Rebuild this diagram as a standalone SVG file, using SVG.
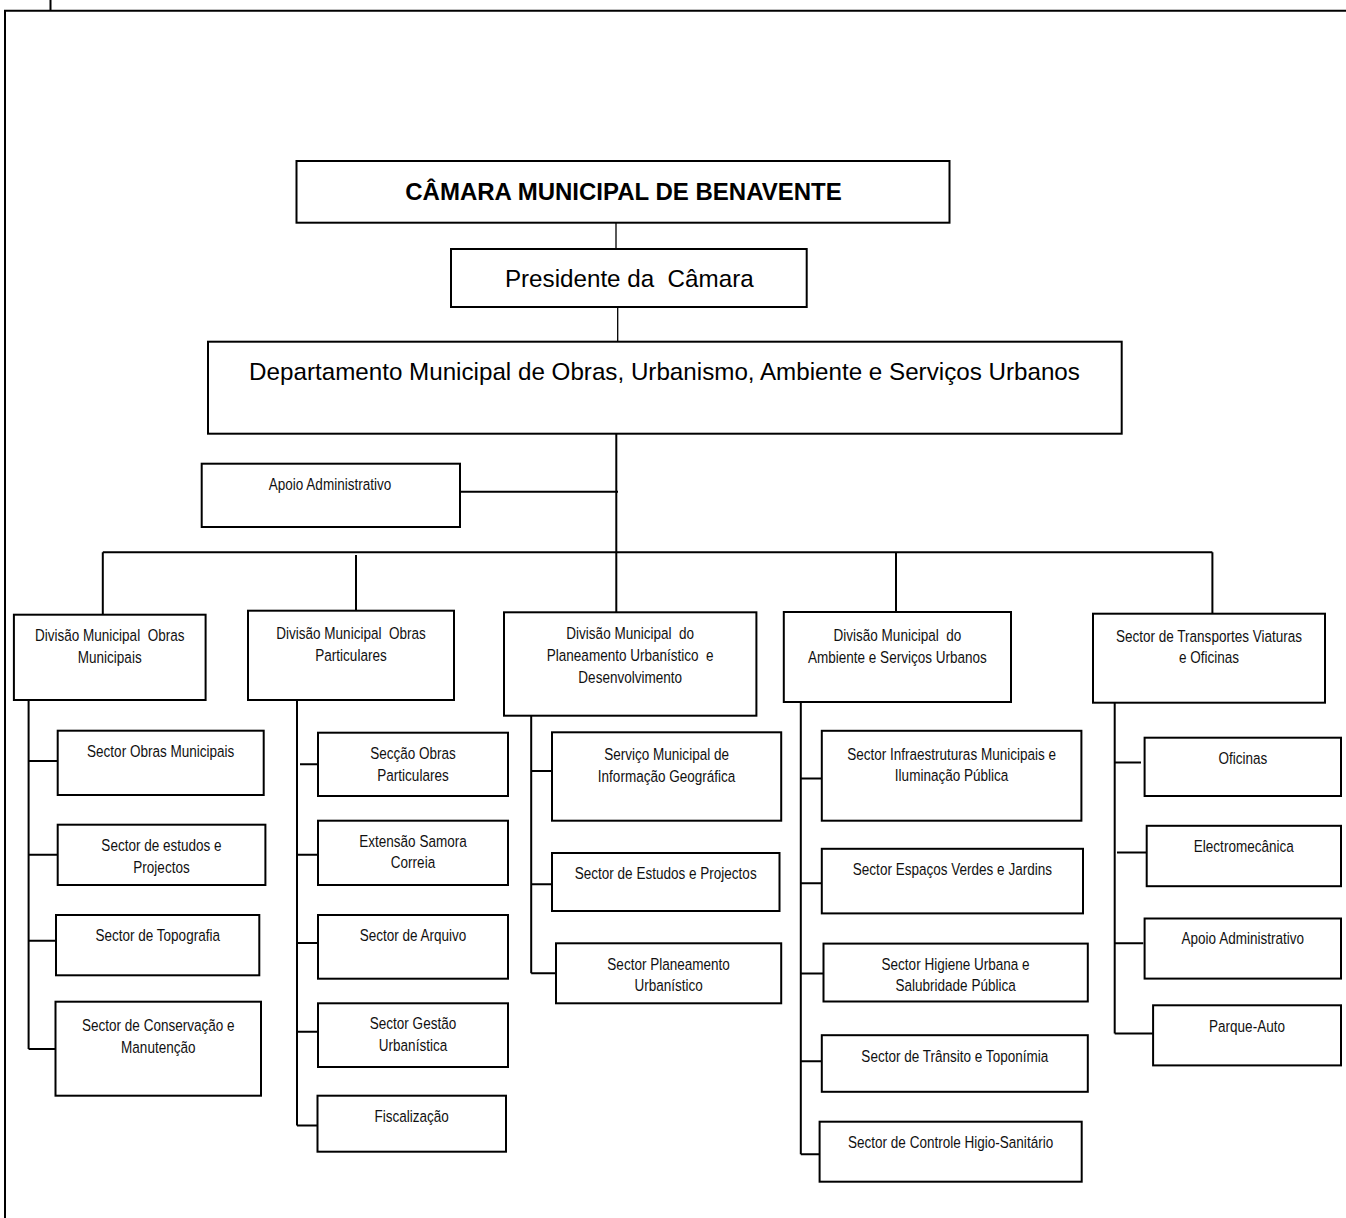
<svg xmlns="http://www.w3.org/2000/svg" width="1346" height="1218" viewBox="0 0 1346 1218">
<style>
.box{fill:#fff;stroke:#000;stroke-width:2}
.ln{stroke:#000;stroke-width:2;fill:none}
.thin{stroke:#000;stroke-width:1.3;fill:none}
text{white-space:pre;fill:#111;text-anchor:middle}
.s{font-family:"Liberation Sans",Arial,sans-serif;font-size:16.5px}
.b{font-family:"Liberation Sans",Arial,sans-serif;font-size:24px;font-weight:bold;fill:#000}
.m{font-family:"Liberation Sans",Arial,sans-serif;font-size:24.2px;fill:#000}
</style>
<rect width="1346" height="1218" fill="#fff"/>
<g id="frame">
<path class="ln" d="M5,1218 V10.8 H1346 M50.5,0 V10"/>
</g>
<g id="connectors">
<path class="thin" d="M616,222.7 V249 M617.7,307 V341.7"/>
<path class="ln" d="M616.3,433.7 V612.3 M460,491.7 H618 M102.8,552.3 H1212.4 M102.8,552.3 V614.7 M356,555 V610.7 M896,552.3 V612 M1212.4,552.3 V613.7"/>
<path class="ln" d="M28.6,700 V1049 M28.6,761 H57.7 M28.6,854.7 H57.7 M28.6,940.7 H57.7 M28.6,1049 H57.7"/>
<path class="ln" d="M297,700 V1125.5 M300,764.3 H320 M297,854.7 H318 M297,943 H320 M297,1031.7 H318 M297,1125.5 H320.7"/>
<path class="ln" d="M531.2,715.7 V973.3 M531.2,771 H552 M531.2,884.3 H555 M531.2,973.3 H556"/>
<path class="ln" d="M800.8,700 V1154.3 M800.8,778.5 H821.8 M800.8,883.2 H821.8 M800.8,973.4 H823.5 M800.8,1061.3 H821.8 M800.8,1154.3 H819.6"/>
<path class="ln" d="M1114.7,702.7 V1033.5 M1114.7,762.4 H1141 M1117,852.6 H1146.7 M1114.7,943.2 H1143.3 M1114.7,1033.5 H1153"/>
</g>
<g id="camara">
<rect class="box" x="296.5" y="161" width="653" height="61.7"/>
<text class="b" x="623.5" y="200">CÂMARA MUNICIPAL DE BENAVENTE</text>
</g>
<g id="presidente">
<rect class="box" x="451" y="249" width="355.7" height="58"/>
<text class="m" x="629.3" y="287">Presidente da  Câmara</text>
</g>
<g id="departamento">
<rect class="box" x="208" y="341.7" width="913.7" height="92"/>
<text class="m" x="664.5" y="380">Departamento Municipal de Obras, Urbanismo, Ambiente e Serviços Urbanos</text>
</g>
<g id="apoio-adm">
<rect class="box" x="201.7" y="463.7" width="258.3" height="63.3"/>
<text class="s" transform="translate(330 490) scale(0.82 1)">Apoio Administrativo</text>
</g>
<g id="div-obras-municipais">
<rect class="box" x="13.9" y="614.7" width="191.7" height="85.3"/>
<text class="s" transform="translate(109.7 641) scale(0.82 1)">Divisão Municipal  Obras</text>
<text class="s" transform="translate(109.7 663) scale(0.82 1)">Municipais</text>
</g>
<g id="div-obras-particulares">
<rect class="box" x="248" y="610.7" width="206" height="89.3"/>
<text class="s" transform="translate(351 639) scale(0.82 1)">Divisão Municipal  Obras</text>
<text class="s" transform="translate(351 661) scale(0.82 1)">Particulares</text>
</g>
<g id="div-planeamento">
<rect class="box" x="504" y="612.3" width="252.4" height="103.4"/>
<text class="s" transform="translate(630.2 639) scale(0.82 1)">Divisão Municipal  do</text>
<text class="s" transform="translate(630.2 661) scale(0.82 1)">Planeamento Urbanístico  e</text>
<text class="s" transform="translate(630.2 683) scale(0.82 1)">Desenvolvimento</text>
</g>
<g id="div-ambiente">
<rect class="box" x="783.8" y="612" width="227.2" height="90"/>
<text class="s" transform="translate(897.4 641) scale(0.82 1)">Divisão Municipal  do</text>
<text class="s" transform="translate(897.4 663) scale(0.82 1)">Ambiente e Serviços Urbanos</text>
</g>
<g id="sector-transportes">
<rect class="box" x="1093" y="613.7" width="232" height="89"/>
<text class="s" transform="translate(1209 641.7) scale(0.82 1)">Sector de Transportes Viaturas</text>
<text class="s" transform="translate(1209 663.3) scale(0.82 1)">e Oficinas</text>
</g>
<g id="sector-obras-municipais">
<rect class="box" x="57.7" y="730.7" width="206" height="64.3"/>
<text class="s" transform="translate(160.7 757) scale(0.82 1)">Sector Obras Municipais</text>
</g>
<g id="sector-estudos-projectos-1">
<rect class="box" x="57.7" y="824.7" width="207.7" height="60.3"/>
<text class="s" transform="translate(161.5 851) scale(0.82 1)">Sector de estudos e</text>
<text class="s" transform="translate(161.5 873) scale(0.82 1)">Projectos</text>
</g>
<g id="sector-topografia">
<rect class="box" x="56" y="915" width="203.3" height="60.3"/>
<text class="s" transform="translate(157.7 940.7) scale(0.82 1)">Sector de Topografia</text>
</g>
<g id="sector-conservacao">
<rect class="box" x="55.5" y="1001.7" width="205.5" height="94"/>
<text class="s" transform="translate(158.3 1031) scale(0.82 1)">Sector de Conservação e</text>
<text class="s" transform="translate(158.3 1053) scale(0.82 1)">Manutenção</text>
</g>
<g id="seccao-obras-particulares">
<rect class="box" x="318" y="732.7" width="190" height="63.3"/>
<text class="s" transform="translate(413 759.3) scale(0.82 1)">Secção Obras</text>
<text class="s" transform="translate(413 780.5) scale(0.82 1)">Particulares</text>
</g>
<g id="extensao-samora">
<rect class="box" x="318" y="820.7" width="190" height="64.3"/>
<text class="s" transform="translate(413 846.7) scale(0.82 1)">Extensão Samora</text>
<text class="s" transform="translate(413 868.3) scale(0.82 1)">Correia</text>
</g>
<g id="sector-arquivo">
<rect class="box" x="318" y="915" width="190" height="63.7"/>
<text class="s" transform="translate(413 940.7) scale(0.82 1)">Sector de Arquivo</text>
</g>
<g id="sector-gestao">
<rect class="box" x="318" y="1003.3" width="190" height="63.7"/>
<text class="s" transform="translate(413 1029.3) scale(0.82 1)">Sector Gestão</text>
<text class="s" transform="translate(413 1051) scale(0.82 1)">Urbanística</text>
</g>
<g id="fiscalizacao">
<rect class="box" x="317.5" y="1095.7" width="188.5" height="56"/>
<text class="s" transform="translate(411.7 1121.7) scale(0.82 1)">Fiscalização</text>
</g>
<g id="servico-sig">
<rect class="box" x="552" y="732.3" width="229.2" height="88.4"/>
<text class="s" transform="translate(666.6 760) scale(0.82 1)">Serviço Municipal de</text>
<text class="s" transform="translate(666.6 781.7) scale(0.82 1)">Informação Geográfica</text>
</g>
<g id="sector-estudos-projectos-2">
<rect class="box" x="552" y="853" width="227.5" height="58"/>
<text class="s" transform="translate(665.7 879) scale(0.82 1)">Sector de Estudos e Projectos</text>
</g>
<g id="sector-planeamento">
<rect class="box" x="556" y="943.3" width="225.2" height="60"/>
<text class="s" transform="translate(668.6 970) scale(0.82 1)">Sector Planeamento</text>
<text class="s" transform="translate(668.6 990.7) scale(0.82 1)">Urbanístico</text>
</g>
<g id="sector-infraestruturas">
<rect class="box" x="821.8" y="730.8" width="259.6" height="89.9"/>
<text class="s" transform="translate(951.6 759.6) scale(0.82 1)">Sector Infraestruturas Municipais e</text>
<text class="s" transform="translate(951.6 780.5) scale(0.82 1)">Iluminação Pública</text>
</g>
<g id="sector-espacos-verdes">
<rect class="box" x="821.8" y="848.8" width="261.2" height="64.6"/>
<text class="s" transform="translate(952.4 874.6) scale(0.82 1)">Sector Espaços Verdes e Jardins</text>
</g>
<g id="sector-higiene">
<rect class="box" x="823.5" y="943.6" width="264.3" height="57.9"/>
<text class="s" transform="translate(955.6 970) scale(0.82 1)">Sector Higiene Urbana e</text>
<text class="s" transform="translate(955.6 990.6) scale(0.82 1)">Salubridade Pública</text>
</g>
<g id="sector-transito">
<rect class="box" x="821.8" y="1035.2" width="266" height="56.6"/>
<text class="s" transform="translate(954.8 1061.6) scale(0.82 1)">Sector de Trânsito e Toponímia</text>
</g>
<g id="sector-higio-sanitario">
<rect class="box" x="819.6" y="1121.7" width="262.1" height="60"/>
<text class="s" transform="translate(950.6 1148.3) scale(0.82 1)">Sector de Controle Higio-Sanitário</text>
</g>
<g id="oficinas">
<rect class="box" x="1144.6" y="737.7" width="196.4" height="58.3"/>
<text class="s" transform="translate(1242.8 764) scale(0.82 1)">Oficinas</text>
</g>
<g id="electromecanica">
<rect class="box" x="1146.7" y="825.8" width="194.3" height="60.4"/>
<text class="s" transform="translate(1243.8 851.6) scale(0.82 1)">Electromecânica</text>
</g>
<g id="apoio-adm-2">
<rect class="box" x="1144.6" y="918.5" width="196.4" height="60.1"/>
<text class="s" transform="translate(1242.8 944.2) scale(0.82 1)">Apoio Administrativo</text>
</g>
<g id="parque-auto">
<rect class="box" x="1153.1" y="1005.3" width="187.9" height="60.1"/>
<text class="s" transform="translate(1247 1031.7) scale(0.82 1)">Parque-Auto</text>
</g>
</svg>
